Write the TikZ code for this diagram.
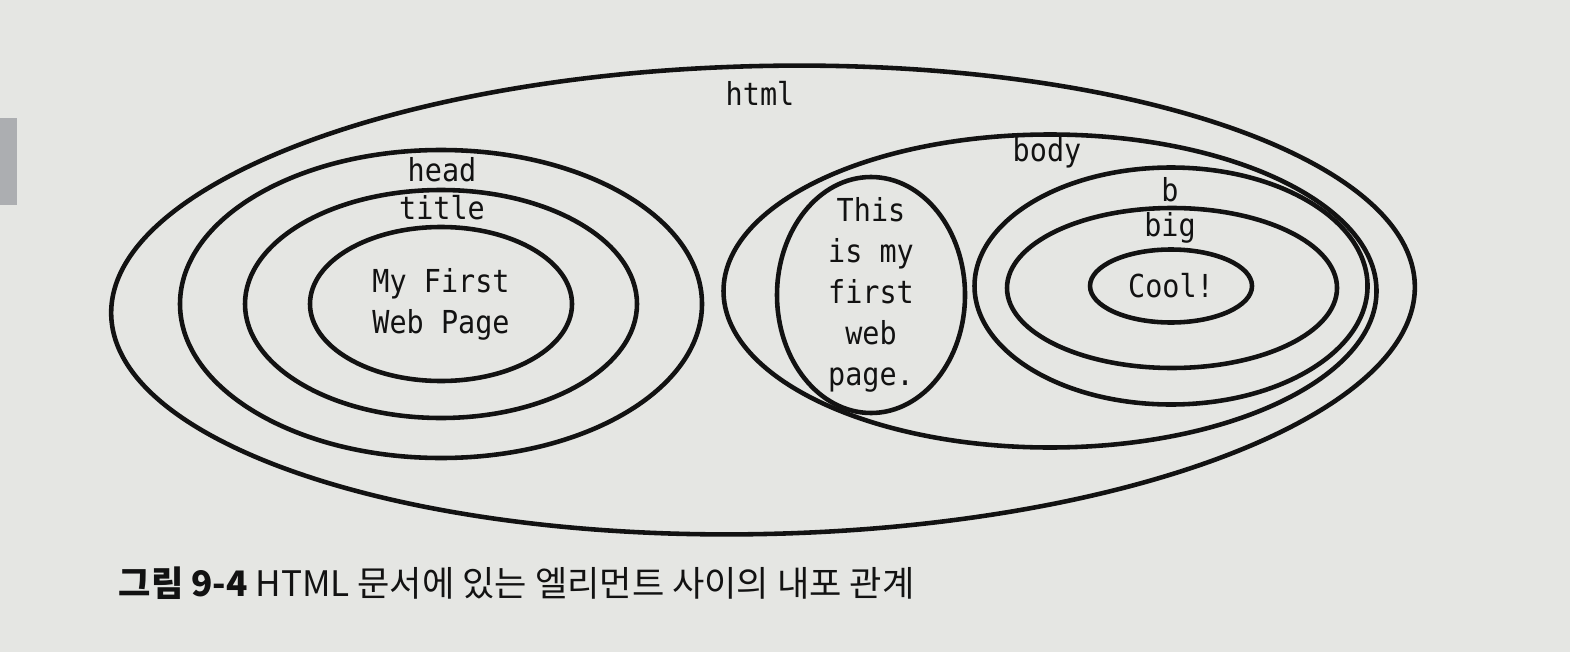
\documentclass[tikz,border=0pt]{standalone}
\usepackage{fontspec}
\setmonofont{DejaVu Sans Mono}[FakeStretch=0.9]
\newfontfamily\krfont{Noto Sans CJK KR}
\usetikzlibrary{shapes.geometric}

\definecolor{pagebg}{RGB}{229,230,227}
\definecolor{tabgray}{RGB}{172,174,177}
\definecolor{ink}{RGB}{18,18,18}

\begin{document}
\begin{tikzpicture}[
		x=0.1mm, y=-0.1mm,
		tag/.style={draw=ink, ellipse, line width=1.3pt, inner sep=0pt},
		tagname/.style={font=\ttfamily\fontsize{9}{11.7}\selectfont, text=ink, inner sep=0pt, align=center},
		caption/.style={font=\krfont\fontsize{10}{12}\selectfont, text=ink, inner sep=0pt, anchor=west}
	]
	\fill[pagebg] (0,0) rectangle (1570,652);
	\useasboundingbox (0,0) rectangle (1570,652);
	\fill[tabgray] (0,118) rectangle (17,205);

	% nested elements
	\node[tag, minimum width=130.4mm, minimum height=46.8mm, rotate=1.3] (html) at (763,300) {};
	\node[tag, minimum width=52.2mm, minimum height=30.8mm] (head) at (441,304) {};
	\node[tag, minimum width=39.2mm, minimum height=22.8mm] (title) at (441,304) {};
	\node[tag, minimum width=26.2mm, minimum height=15.4mm] (titletext) at (441,304) {};

	\node[tag, minimum width=65.3mm, minimum height=31.3mm] (body) at (1050,291) {};
	\node[tag, minimum width=18.8mm, minimum height=23.6mm] (bodytext) at (871,295) {};
	\node[tag, minimum width=39.3mm, minimum height=23.7mm] (b) at (1171,286) {};
	\node[tag, minimum width=33.0mm, minimum height=16.0mm] (big) at (1172,288) {};
	\node[tag, minimum width=16.2mm, minimum height=7.3mm] (cool) at (1171,286) {};

	% tag names and contents
	\node[tagname] (htmlname) at (760,93) {html};
	\node[tagname] (headname) at (442,170) {head};
	\node[tagname] (titlename) at (442,208) {title};
	\node[tagname] at (titletext.center) {My First\\Web Page};
	\node[tagname] (bodyname) at (1047,153) {body};
	\node[tagname] at (bodytext.center) {This\\is my\\first\\web\\page.};
	\node[tagname] (bname) at (1170,190) {b};
	\node[tagname] (bigname) at (1170,228) {big};
	\node[tagname] at (cool.center) {Cool!};

	\node[caption] (fig) at (118,583) {{\bfseries 그림 9-4} HTML 문서에 있는 엘리먼트 사이의 내포 관계};
\end{tikzpicture}
\end{document}
